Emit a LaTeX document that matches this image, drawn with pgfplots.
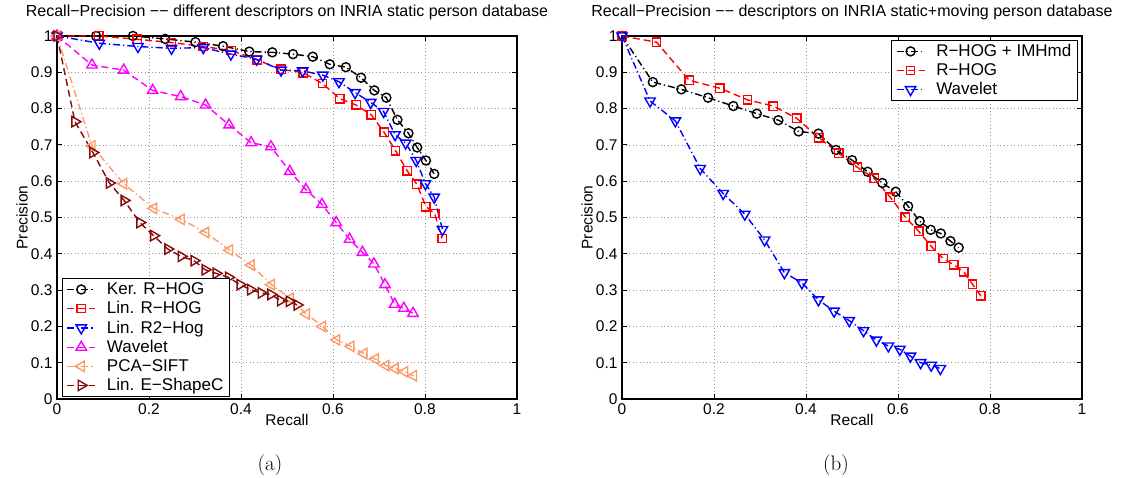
\documentclass[border=0pt]{standalone}
\usepackage{pgfplots}
\pgfplotsset{compat=1.18}
\usepackage{fontspec}
\setsansfont{Liberation Sans}
\definecolor{salmon}{RGB}{250,155,105}
\definecolor{maroon}{RGB}{135,10,10}
\definecolor{mag}{RGB}{255,0,255}
\definecolor{gridgray}{RGB}{150,150,150}
\tikzset{
  mdash/.style={dash pattern=on 7pt off 4pt},
  mdashdot/.style={dash pattern=on 7pt off 3pt on 1.2pt off 3pt},
}
\pgfplotsset{
  mystyle/.style={
    scale only axis, width=460pt, height=363pt,
    xmin=0, xmax=1, ymin=0, ymax=1,
    xtick={0,0.2,0.4,0.6,0.8,1}, ytick={0,0.1,...,1},
    tick align=inside, xtick pos=both, ytick pos=both,
    major tick length=5pt,
    grid=major,
    major grid style={gridgray, line width=0.6pt, dash pattern=on 1pt off 2.5pt},
    axis line style={line width=1.3pt},
    every tick/.style={black, line width=0.8pt},
    /pgf/number format/assume math mode=true,
    ticklabel style={font=\fontsize{15.5}{17}\sffamily},
    label style={font=\fontsize{15.5}{17}\sffamily},
    title style={font=\fontsize{16}{18}\sffamily, at={(0.5,1)}, anchor=south, inner sep=0pt, yshift=10pt},
    xlabel style={at={(axis description cs:0.5,-0.058)}, anchor=center},
    ylabel style={at={(axis description cs:-0.076,0.5)}, anchor=center},
    xticklabel style={yshift=-1pt},
    yticklabel style={xshift=-1pt},
    legend style={font=\fontsize{17}{19}\sffamily, draw=black, line width=1pt, inner xsep=4pt, inner ysep=2pt, row sep=1.5pt,
      cells={anchor=west},
      /tikz/every odd column/.append style={column sep=9pt}},
    legend image code/.code={
      \draw[mark repeat=2,mark phase=2,#1] plot coordinates {(0pt,0pt) (14pt,0pt) (28pt,0pt)};
    },
    every axis plot/.append style={line width=1.4pt, mark size=4.5pt},
  }
}
\begin{document}
\begin{tikzpicture}[x=1pt,y=1pt]
\useasboundingbox (0,0) rectangle (1127,478);
\begin{axis}[mystyle, at={(57pt,79pt)}, anchor=south west,
  title={Recall−Precision −− different descriptors on INRIA static person database},
  xlabel={Recall}, ylabel={Precision},
  legend style={at={(0.011,0.006)}, anchor=south west}]
\addplot[black, mdashdot, mark=o, mark options={solid, line width=1.4pt}] coordinates {
(0,1) (0.085,1.0) (0.165,1.0) (0.235,0.992) (0.301,0.983) (0.361,0.972) (0.418,0.957) (0.468,0.955) (0.513,0.950) (0.556,0.943) (0.593,0.922) (0.628,0.914) (0.661,0.885) (0.690,0.850) (0.716,0.830) (0.740,0.769) (0.764,0.732) (0.783,0.693) (0.802,0.657) (0.820,0.620)};
\addlegendentry{Ker. R−HOG}
\addplot[red, mdash, mark=square, mark size=4.2pt, mark options={solid, line width=1.4pt}] coordinates {
(0,1) (0.091,1.0) (0.174,0.991) (0.249,0.982) (0.318,0.971) (0.379,0.960) (0.435,0.934) (0.487,0.908) (0.535,0.899) (0.577,0.869) (0.615,0.827) (0.650,0.810) (0.683,0.783) (0.711,0.735) (0.736,0.684) (0.761,0.629) (0.782,0.592) (0.802,0.530) (0.821,0.511) (0.837,0.442)};
\addlegendentry{Lin. R−HOG}
\addplot[blue, mdashdot, mark=triangle, mark size=6pt, mark options={solid, rotate=180, line width=1.4pt}] coordinates {
(0,1) (0.092,0.980) (0.176,0.971) (0.249,0.966) (0.318,0.968) (0.378,0.950) (0.434,0.936) (0.487,0.906) (0.534,0.904) (0.578,0.892) (0.613,0.874) (0.648,0.844) (0.682,0.817) (0.710,0.792) (0.735,0.728) (0.758,0.705) (0.781,0.657) (0.801,0.593) (0.820,0.556) (0.838,0.467)};
\addlegendentry{Lin. R2−Hog}
\addplot[mag, mdash, mark=triangle, mark size=6pt, mark options={solid, line width=1.4pt}] coordinates {
(0,1) (0.076,0.920) (0.145,0.906) (0.208,0.850) (0.269,0.833) (0.323,0.810) (0.374,0.755) (0.422,0.706) (0.465,0.695) (0.506,0.627) (0.541,0.577) (0.576,0.536) (0.607,0.486) (0.636,0.440) (0.664,0.404) (0.689,0.372) (0.713,0.315) (0.734,0.261) (0.754,0.250) (0.774,0.236)};
\addlegendentry{Wavelet}
\addplot[salmon, mdashdot, mark=triangle, mark size=6pt, mark options={solid, rotate=90, line width=1.4pt}] coordinates {
(0,1) (0.076,0.697) (0.145,0.593) (0.210,0.525) (0.270,0.495) (0.323,0.459) (0.375,0.410) (0.422,0.369) (0.466,0.315) (0.507,0.277) (0.542,0.234) (0.577,0.200) (0.608,0.163) (0.639,0.145) (0.667,0.125) (0.692,0.110) (0.715,0.092) (0.735,0.084) (0.756,0.075) (0.775,0.064)};
\addlegendentry{PCA−SIFT}
\addplot[maroon, mdash, mark=triangle, mark size=6pt, mark options={solid, rotate=-90, line width=1.4pt}] coordinates {
(0,1) (0.039,0.764) (0.078,0.679) (0.114,0.595) (0.146,0.547) (0.180,0.486) (0.210,0.450) (0.241,0.413) (0.270,0.393) (0.298,0.381) (0.322,0.356) (0.346,0.346) (0.373,0.335) (0.398,0.315) (0.421,0.301) (0.444,0.292) (0.465,0.288) (0.486,0.271) (0.505,0.269) (0.522,0.259)};
\addlegendentry{Lin. E−ShapeC}
\end{axis}
\begin{axis}[mystyle, at={(622pt,79pt)}, anchor=south west,
  title={Recall−Precision −− descriptors on INRIA static+moving person database},
  xlabel={Recall}, ylabel={Precision},
  legend style={at={(0.991,0.989)}, anchor=north east}]
\addplot[black, mdashdot, mark=o, mark options={solid, line width=1.4pt}] coordinates {
(0,1) (0.067,0.873) (0.129,0.853) (0.187,0.830) (0.242,0.807) (0.293,0.786) (0.340,0.768) (0.384,0.737) (0.427,0.731) (0.465,0.686) (0.500,0.658) (0.534,0.626) (0.566,0.595) (0.595,0.571) (0.622,0.531) (0.647,0.490) (0.671,0.466) (0.693,0.456) (0.714,0.435) (0.732,0.417)};
\addlegendentry{R−HOG + IMHmd}
\addplot[red, mdash, mark=square, mark size=4.2pt, mark options={solid, line width=1.4pt}] coordinates {
(0,1) (0.075,0.983) (0.146,0.878) (0.213,0.856) (0.273,0.824) (0.329,0.807) (0.380,0.773) (0.428,0.720) (0.471,0.677) (0.512,0.638) (0.548,0.608) (0.583,0.556) (0.616,0.501) (0.645,0.462) (0.672,0.421) (0.698,0.387) (0.721,0.370) (0.743,0.350) (0.762,0.316) (0.780,0.284)};
\addlegendentry{R−HOG}
\addplot[blue, mdashdot, mark=triangle, mark size=6pt, mark options={solid, rotate=180, line width=1.4pt}] coordinates {
(0,1) (0.061,0.821) (0.116,0.766) (0.170,0.635) (0.220,0.566) (0.267,0.509) (0.310,0.438) (0.353,0.348) (0.391,0.320) (0.427,0.273) (0.461,0.242) (0.494,0.216) (0.525,0.188) (0.553,0.162) (0.579,0.146) (0.604,0.137) (0.627,0.118) (0.649,0.100) (0.672,0.093) (0.692,0.084)};
\addlegendentry{Wavelet}
\end{axis}
\node[font=\fontsize{21}{24}\rmfamily] at (270,13) {(a)};
\node[font=\fontsize{21}{24}\rmfamily] at (836,13) {(b)};
\end{tikzpicture}
\end{document}
